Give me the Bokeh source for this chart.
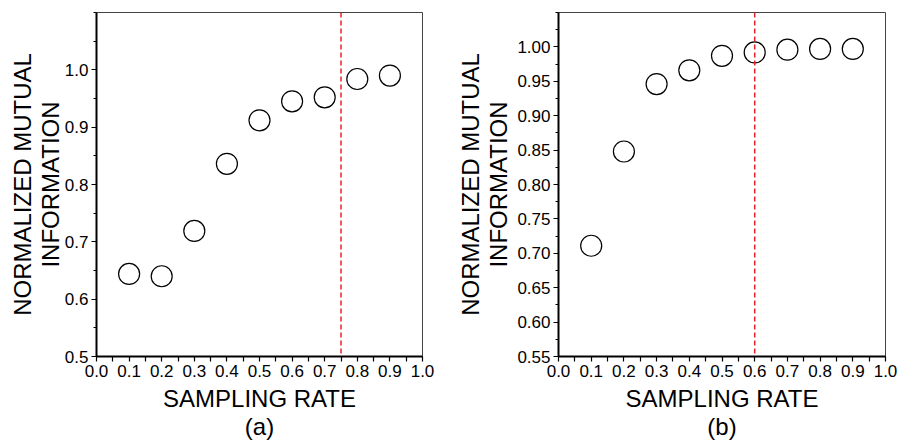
from bokeh.plotting import figure
from bokeh.models import Span, FixedTicker, Range1d, NumeralTickFormatter
from bokeh.layouts import row
from bokeh.embed import file_html
from bokeh.resources import INLINE

# ---- data ----
sampling_rate = [0.1, 0.2, 0.3, 0.4, 0.5, 0.6, 0.7, 0.8, 0.9]
nmi_a = [0.644, 0.640, 0.719, 0.836, 0.912, 0.945, 0.952, 0.984, 0.990]
nmi_b = [0.711, 0.848, 0.946, 0.966, 0.987, 0.992, 0.996, 0.997, 0.997]
threshold_a = 0.75
threshold_b = 0.6

x_ticks = [0.0, 0.1, 0.2, 0.3, 0.4, 0.5, 0.6, 0.7, 0.8, 0.9, 1.0]
x_minor = [0.05, 0.15, 0.25, 0.35, 0.45, 0.55, 0.65, 0.75, 0.85, 0.95]
y_ticks_a = [0.5, 0.6, 0.7, 0.8, 0.9, 1.0]
y_minor_a = [0.55, 0.65, 0.75, 0.85, 0.95, 1.05, 1.1]
y_ticks_b = [0.55, 0.60, 0.65, 0.70, 0.75, 0.80, 0.85, 0.90, 0.95, 1.00]
y_minor_b = [0.575, 0.625, 0.675, 0.725, 0.775, 0.825, 0.875, 0.925, 0.975, 1.025, 1.05]
y_range_a = (0.5, 1.1)
y_range_b = (0.55, 1.05)

x_title = "SAMPLING RATE"
y_title = "NORMALIZED MUTUAL\nINFORMATION"
panel_labels = ["(a)", "(b)"]

FONT = "Liberation Sans"


def make_panel(y, thr, yr, yt, ym, fmt, tag, width, borders, ylab_standoff):
    left, right, top, bottom = borders
    p = figure(width=width, height=442, x_range=Range1d(0, 1), y_range=Range1d(*yr),
               output_backend="svg", toolbar_location=None,
               min_border_left=left, min_border_right=right,
               min_border_top=top, min_border_bottom=bottom)
    p.grid.visible = False
    p.outline_line_color = "#444444"
    p.outline_line_width = 1
    p.background_fill_color = "white"
    p.border_fill_color = "white"

    for ax in (p.xaxis[0], p.yaxis[0]):
        ax.axis_line_width = 2
        ax.axis_line_color = "black"
        ax.major_tick_line_color = "black"
        ax.minor_tick_line_color = "black"
        ax.major_tick_line_width = 1.2
        ax.minor_tick_line_width = 1.2
        ax.major_tick_in = 0
        ax.minor_tick_in = 0
        ax.major_label_text_font = FONT
        ax.major_label_text_font_size = "17px"
        ax.major_label_text_color = "black"
        ax.major_label_standoff = 3
        ax.axis_label_text_font = FONT
        ax.axis_label_text_font_size = "24px"
        ax.axis_label_text_font_style = "normal"
        ax.axis_label_text_color = "black"
        ax.axis_label_text_line_height = 1.05
        ax.axis_label_text_align = "center"

    xa = p.xaxis[0]
    xa.ticker = FixedTicker(ticks=x_ticks, minor_ticks=x_minor)
    xa.formatter = NumeralTickFormatter(format="0.0")
    xa.major_tick_out = 5
    xa.minor_tick_out = 5
    xa.axis_label = x_title + "\n" + tag
    xa.axis_label_standoff = 5

    ya = p.yaxis[0]
    ya.ticker = FixedTicker(ticks=yt, minor_ticks=ym)
    ya.formatter = NumeralTickFormatter(format=fmt)
    ya.major_tick_out = 5
    ya.minor_tick_out = 3
    ya.axis_label = y_title
    ya.axis_label_standoff = ylab_standoff

    p.add_layout(Span(location=thr, dimension="height", line_color="#e8212a",
                      line_dash="5 3", line_width=1.5))
    p.scatter(sampling_rate, y, marker="circle", size=21, fill_color=None,
              line_color="black", line_width=1.2)
    return p


pa = make_panel(nmi_a, threshold_a, y_range_a, y_ticks_a, y_minor_a, "0.0",
                panel_labels[0], 450, (96, 28, 12, 84), -2)
pb = make_panel(nmi_b, threshold_b, y_range_b, y_ticks_b, y_minor_b, "0.00",
                panel_labels[1], 451, (108, 16, 8, 86), 2)

layout = row(pa, pb)
open("out.html", "w").write(file_html(layout, INLINE))
